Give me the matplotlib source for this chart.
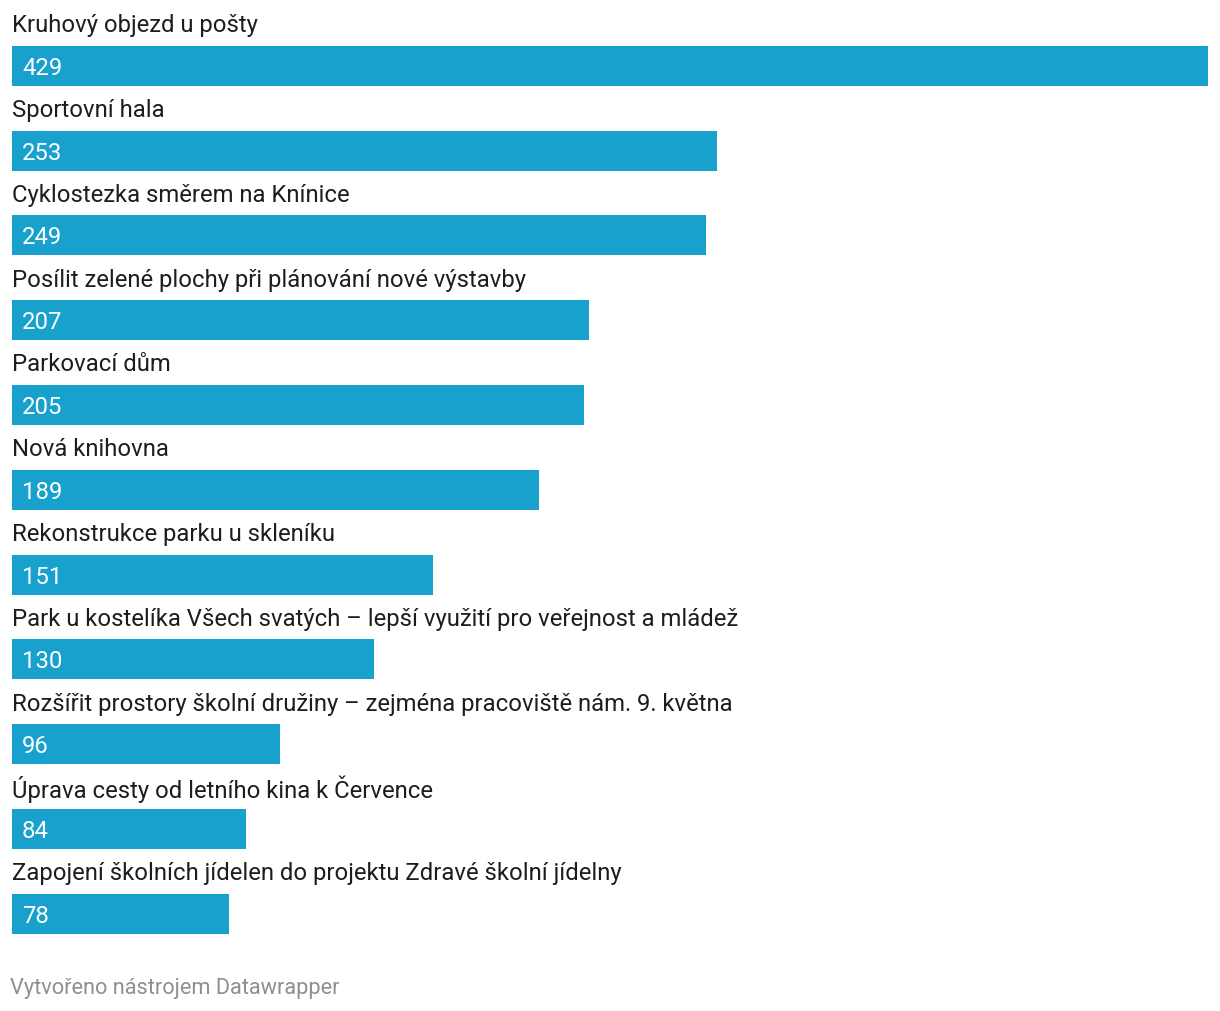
import matplotlib.pyplot as plt

plt.rcParams['font.family'] = ['Roboto', 'DejaVu Sans']

categories = [
    "Kruhový objezd u pošty",
    "Sportovní hala",
    "Cyklostezka směrem na Knínice",
    "Posílit zelené plochy při plánování nové výstavby",
    "Parkovací dům",
    "Nová knihovna",
    "Rekonstrukce parku u skleníku",
    "Park u kostelíka Všech svatých – lepší využití pro veřejnost a mládež",
    "Rozšířit prostory školní družiny – zejména pracoviště nám. 9. května",
    "Úprava cesty od letního kina k Července",
    "Zapojení školních jídelen do projektu Zdravé školní jídelny",
]
values = [429, 253, 249, 207, 205, 189, 151, 130, 96, 84, 78]

W, H = 1220, 1012
fig = plt.figure(figsize=(W / 100, H / 100), dpi=100)

# axes spans the bar area horizontally and the full height
left, right = 12, 1208
ax = fig.add_axes([left / W, 0, (right - left) / W, 1])

pitch = 84.8
first = 66.8
ax.set_xlim(0, max(values))
ax.set_ylim((H - first) / pitch, -first / pitch)
ax.axis('off')

ypos = list(range(len(values)))
bar_h = 40 / pitch
ax.barh(ypos, values, height=bar_h, color='#18a1cd')

for y, v, c in zip(ypos, values, categories):
    ax.text(0, y - 41 / pitch, c, ha='left', va='center',
            fontsize=17.2, color='#1d1d1d')
    ax.text(10 * max(values) / (right - left), y + 1.5 / pitch, str(v),
            ha='left', va='center', fontsize=17.2, color='white')

fig.text(10 / W, 1 - 989 / H, "Vytvořeno nástrojem Datawrapper",
         ha='left', va='center', fontsize=15.7, color='#8f8f8f')

fig.savefig('out.png', dpi=100)
